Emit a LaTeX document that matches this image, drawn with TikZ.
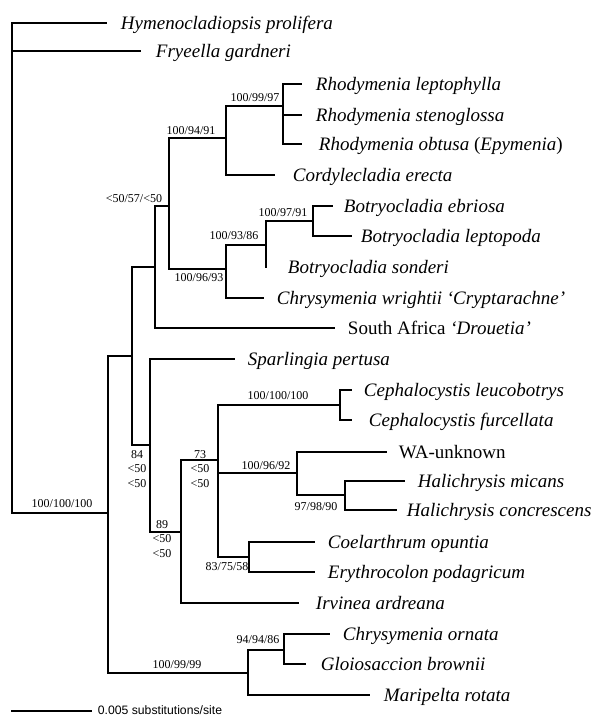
\documentclass[tikz,border=0pt]{standalone}
\usepackage{fontspec}
\setmainfont{Liberation Serif}
\setsansfont{Liberation Sans}
\begin{document}
\begin{tikzpicture}[x=1pt,y=-1pt,line width=1.9pt,line cap=rect,
  taxon/.style={anchor=west,inner sep=0pt,font=\fontsize{19}{22}\selectfont\itshape,text height=12.6pt,text depth=0pt},
  bs/.style={inner sep=0pt,font=\fontsize{12}{14.5}\selectfont,align=center}]
\useasboundingbox (0,0) rectangle (596,717);
% internal nodes
\coordinate (R) at (12,513);
\coordinate (A) at (108,513);
\coordinate (B) at (132,356);
\coordinate (C) at (248,673);
\coordinate (D) at (155,267);
\coordinate (E) at (150,445);
\coordinate (F) at (169,206);
\coordinate (G) at (226,138);
\coordinate (Rh) at (283,106);
\coordinate (H) at (226,269);
\coordinate (I) at (266,245);
\coordinate (J) at (313,221);
\coordinate (K) at (181,532);
\coordinate (L) at (218,460);
\coordinate (Ce) at (340,405);
\coordinate (M) at (297,473);
\coordinate (P) at (345,495);
\coordinate (N) at (249,557);
\coordinate (Q) at (284,650);
% taxa
\node[taxon] (hym) at (120,23) {Hymenocladiopsis prolifera};
\node[taxon] (fry) at (155,51) {Fryeella gardneri};
\node[taxon] (lph) at (315,84) {Rhodymenia leptophylla};
\node[taxon] (ste) at (315,115) {Rhodymenia stenoglossa};
\node[taxon] (obt) at (318,144) {Rhodymenia obtusa \upshape(\itshape Epymenia\upshape)};
\node[taxon] (cor) at (292,175) {Cordylecladia erecta};
\node[taxon] (ebr) at (343,206) {Botryocladia ebriosa};
\node[taxon] (lpd) at (360,236) {Botryocladia leptopoda};
\node[taxon] (son) at (287,267) {Botryocladia sonderi};
\node[taxon] (wri) at (276,298) {Chrysymenia wrightii ‘Cryptarachne’};
\node[taxon] (saf) at (347,328) {\upshape South Africa \itshape‘Drouetia’};
\node[taxon] (spa) at (247,359) {Sparlingia pertusa};
\node[taxon] (leu) at (363,390) {Cephalocystis leucobotrys};
\node[taxon] (fur) at (368,420) {Cephalocystis furcellata};
\node[taxon] (wa) at (398,452) {\upshape WA-unknown};
\node[taxon] (mic) at (417,481) {Halichrysis micans};
\node[taxon] (con) at (406,510) {Halichrysis concrescens};
\node[taxon] (coe) at (327,542) {Coelarthrum opuntia};
\node[taxon] (ery) at (327,572) {Erythrocolon podagricum};
\node[taxon] (irv) at (315,603) {Irvinea ardreana};
\node[taxon] (orn) at (342,634) {Chrysymenia ornata};
\node[taxon] (glo) at (320,664) {Gloiosaccion brownii};
\node[taxon] (mar) at (383,695) {Maripelta rotata};
% branches
\draw (R) |- ([xshift=-14pt]hym.west);
\draw (R) |- ([xshift=-15pt]fry.west);
\draw (R) -- (A);
\draw (A) |- (B);
\draw (A) |- (C);
\draw (B) |- (D);
\draw (B) |- (E);
\draw (D) |- (F);
\draw (D) |- ([xshift=-13pt]saf.west);
\draw (F) |- (G);
\draw (F) |- (H);
\draw (G) |- (Rh);
\draw (G) |- ([xshift=-18pt]cor.west);
\draw (Rh) |- ([xshift=-14pt]lph.west);
\draw (Rh) |- ([xshift=-14pt]ste.west);
\draw (Rh) |- ([xshift=-17pt]obt.west);
\draw (H) |- (I);
\draw (H) |- ([xshift=-13pt]wri.west);
\draw (I) |- (J);
\draw (I) -- (I |- son.west);
\draw (J) |- ([xshift=-11pt]ebr.west);
\draw (J) |- ([xshift=-9pt]lpd.west);
\draw (E) |- ([xshift=-13pt]spa.west);
\draw (E) |- (K);
\draw (K) |- (L);
\draw (K) |- ([xshift=-17pt]irv.west);
\draw (L) |- (Ce);
\draw (L) |- (M);
\draw (L) |- (N);
\draw (Ce) |- ([xshift=-12pt]leu.west);
\draw (Ce) |- ([xshift=-17pt]fur.west);
\draw (M) |- ([xshift=-12pt]wa.west);
\draw (M) |- (P);
\draw (P) |- ([xshift=-13pt]mic.west);
\draw (P) |- ([xshift=-10pt]con.west);
\draw (N) |- ([xshift=-13pt]coe.west);
\draw (N) |- ([xshift=-13pt]ery.west);
\draw (C) |- (Q);
\draw (C) |- ([xshift=-14pt]mar.west);
\draw (Q) |- ([xshift=-13pt]orn.west);
\draw (Q) |- ([xshift=-15pt]glo.west);
% support values
\node[bs] (bA) at (62,504) {100/100/100};
\node[bs] (bC) at (177,665) {100/99/99};
\node[bs] (bE) at (137,469) {84\\<50\\<50};
\node[bs,anchor=east] (bF) at (163,199) {<50/57/<50};
\node[bs] (bG) at (191,131) {100/94/91};
\node[bs] (bRh) at (255,98) {100/99/97};
\node[bs] (bH) at (199,278) {100/96/93};
\node[bs] (bI) at (234,236) {100/93/86};
\node[bs] (bJ) at (283,213) {100/97/91};
\node[bs] (bK) at (162,539) {89\\<50\\<50};
\node[bs] (bL) at (200,469) {73\\<50\\<50};
\node[bs] (bCe) at (278,396) {100/100/100};
\node[bs] (bM) at (266,466) {100/96/92};
\node[bs] (bP) at (316,507) {97/98/90};
\node[bs] (bN) at (227,567) {83/75/58};
\node[bs] (bQ) at (258,640) {94/94/86};
% scale bar
\coordinate (s0) at (12,711);
\coordinate (s1) at (91,711);
\draw (s0) -- (s1);
\node[anchor=base west,inner sep=0pt,font=\sffamily\fontsize{12.2}{14}\selectfont] (sl) at (97,714.3) {0.005 substitutions/site};
\end{tikzpicture}
\end{document}
